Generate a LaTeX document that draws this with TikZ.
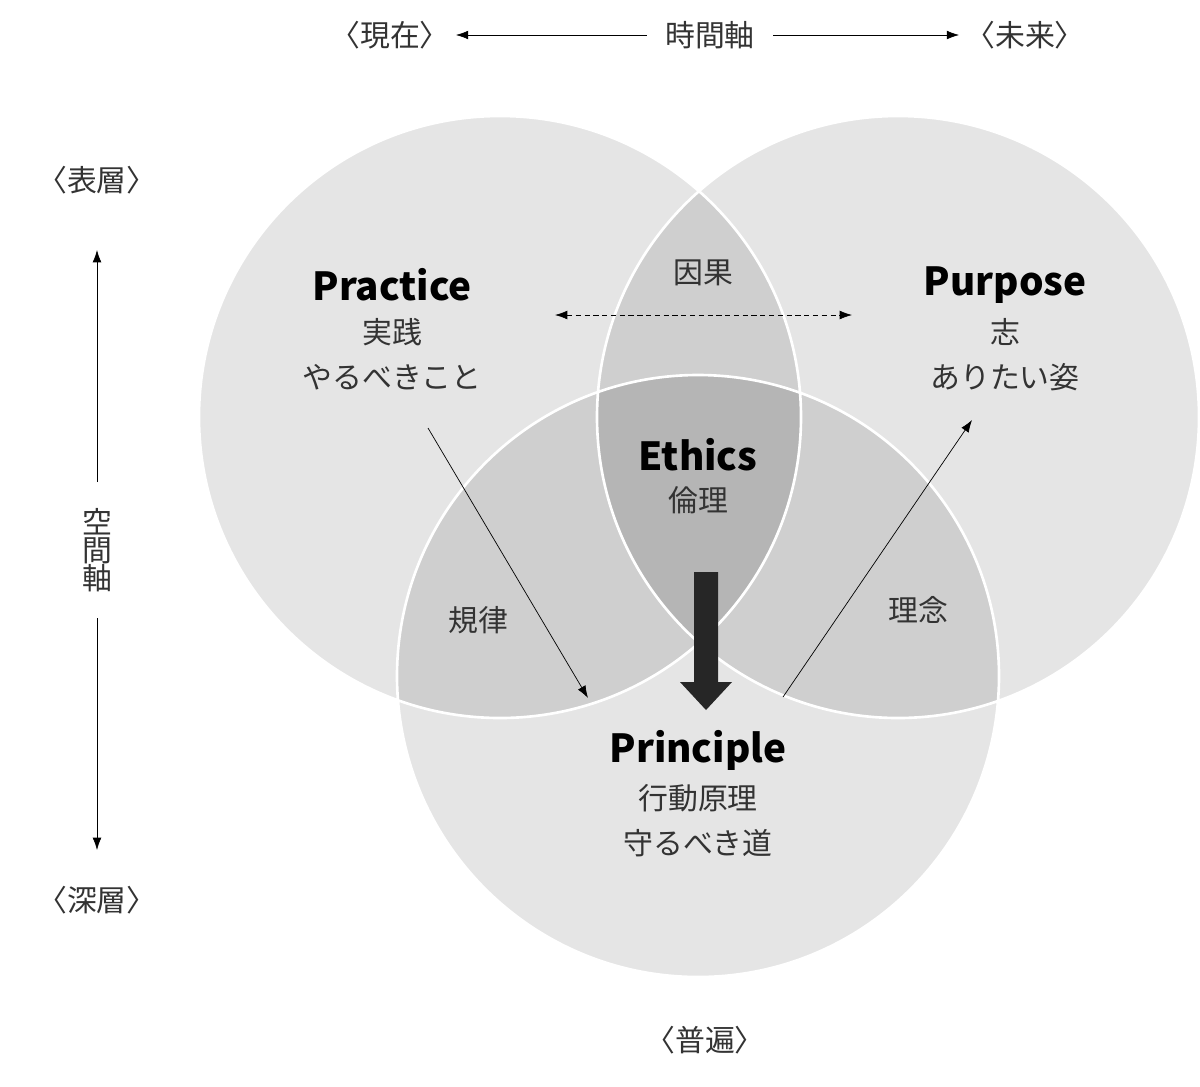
\documentclass[tikz,border=0pt]{standalone}
\usepackage{fontspec}
\setmainfont{Noto Sans CJK JP}
\usetikzlibrary{arrows.meta}
\tikzset{
  px/.style={x=0.02cm,y=-0.02cm},
  big/.style={font=\fontsize{22}{24}\selectfont\bfseries},
  jp/.style={font=\fontsize{17}{19}\selectfont, text=black!80},
  ax/.style={-{Latex[length=7pt,width=5pt]}, thin},
}
\colorlet{one}{black!10}
\colorlet{two}{black!19}
\colorlet{three}{black!29}
\begin{document}
\begin{tikzpicture}[px]
\useasboundingbox (0,0) rectangle (1200,1086);
\coordinate (cL) at (500,417); \coordinate (cR) at (898,417); \coordinate (cB) at (698,676);
\def\rad{301}
% circles
\fill[one] (cL) circle (\rad); \fill[one] (cR) circle (\rad); \fill[one] (cB) circle (\rad);
\begin{scope} \clip (cL) circle (\rad); \fill[two] (cR) circle (\rad); \fill[two] (cB) circle (\rad); \end{scope}
\begin{scope} \clip (cR) circle (\rad); \fill[two] (cB) circle (\rad); \end{scope}
\begin{scope} \clip (cL) circle (\rad); \clip (cR) circle (\rad); \fill[three] (cB) circle (\rad); \end{scope}
\draw[white, line width=1.5pt] (cL) circle (\rad) (cR) circle (\rad) (cB) circle (\rad);
% axes
\node[jp] (now) at (390,35) {〈現在〉}; \node[jp] (time) at (710,35) {時間軸}; \node[jp] (fut) at (1025,35) {〈未来〉};
\node[jp] (surf) at (97,180) {〈表層〉}; \node[jp] (deep) at (97,900) {〈深層〉}; \node[jp] (univ) at (705,1040) {〈普遍〉};
\node[jp, align=center, inner sep=0pt] (space) at (97,550) {空\\[-3pt]間\\[-3pt]軸};
\draw[ax] (time.west) ++(-12,0) coordinate (t1) -- (now.east);
\draw[ax] (time.east) ++(12,0) coordinate (t2) -- (fut.west);
\coordinate (s1) at (97,482); \coordinate (s2) at (97,250);
\coordinate (s3) at (97,618); \coordinate (s4) at (97,850);
\draw[ax] (s1) -- (s2);
\draw[ax] (s3) -- (s4);
% labels
\node[big] (prac) at (392,285) {Practice};
\node[jp] (prac1) at (392,332) {実践};
\node[jp] (prac2) at (392,377) {やるべきこと};
\node[big] (purp) at (1005,285) {Purpose};
\node[jp] (purp1) at (1005,332) {志};
\node[jp] (purp2) at (1005,377) {ありたい姿};
\node[jp] (cause) at (703,273) {因果};
\node[big] (eth) at (698,455) {Ethics};
\node[jp] (eth1) at (698,500) {倫理};
\node[jp] (rule) at (478,620) {規律};
\node[jp] (idea) at (918,610) {理念};
\node[big] (prin) at (698,750) {Principle};
\node[jp] (prin1) at (698,798) {行動原理};
\node[jp] (prin2) at (698,843) {守るべき道};
% connectors
\coordinate (d1) at (555,315); \coordinate (d2) at (852,315);
\draw[{Latex[length=7pt,width=5pt]}-{Latex[length=7pt,width=5pt]}, densely dashed, thin] (d1) -- (d2);
\coordinate (a1) at (428,428); \coordinate (a2) at (588,698);
\draw[ax] (a1) -- (a2);
\coordinate (b1) at (783,697); \coordinate (b2) at (972,420);
\draw[ax] (b1) -- (b2);
\fill[black!85] (694,572) -- (718,572) -- (718,682) -- (732,682) -- (706,710) -- (680,682) -- (694,682) -- cycle;
\end{tikzpicture}
\end{document}
